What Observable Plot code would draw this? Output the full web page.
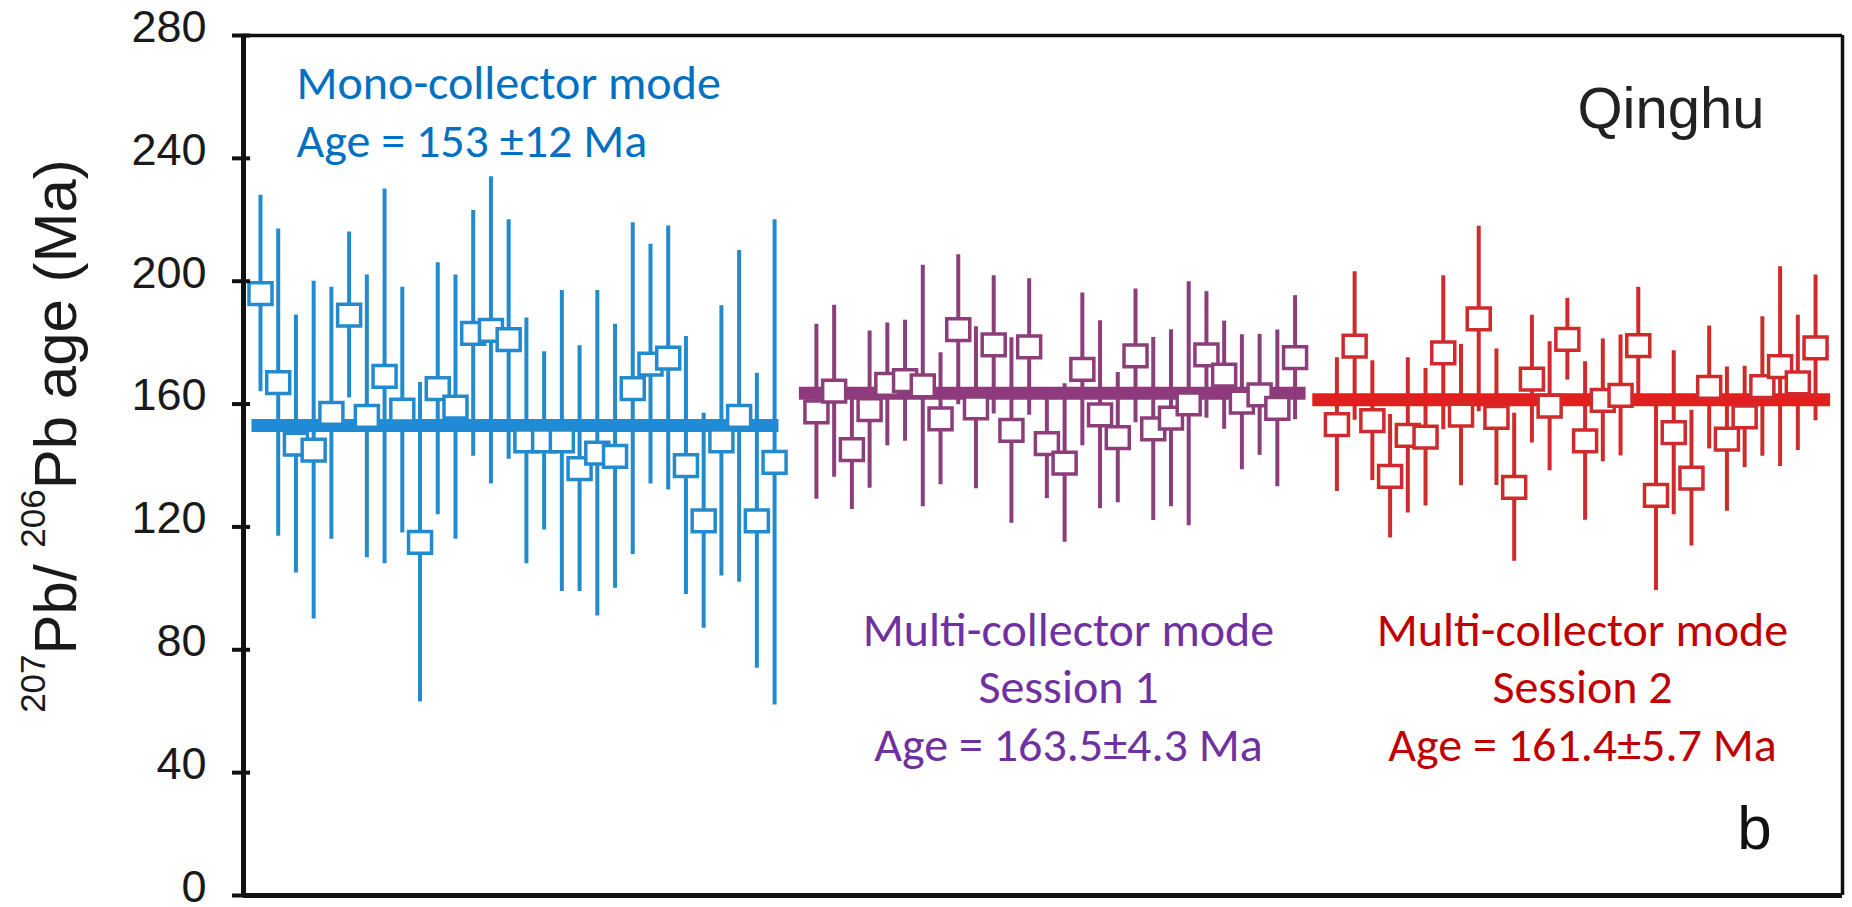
<!DOCTYPE html>
<html>
<head>
<meta charset="utf-8">
<script src="https://cdn.jsdelivr.net/npm/d3@7"></script>
<script src="https://cdn.jsdelivr.net/npm/@observablehq/plot@0.6"></script>
<style>
  html, body { margin: 0; padding: 0; background: #fff; overflow: hidden; }
</style>
</head>
<body>
<div id="chart"></div>
<script>
// 207Pb/206Pb spot ages (Ma) of the Qinghu zircon with 2-sigma errors,
// measured in three acquisition setups.
const yTicks = [0, 40, 80, 120, 160, 200, 240, 280];

const monoAge = [196, 167, 147, 145, 157, 189, 156, 169, 158, 115, 165, 159, 183, 184, 181,
                 148, 148, 148, 139, 144, 143, 165, 173, 175, 140, 122, 148, 156, 122, 141];
const monoErr = [32, 50, 42, 55, 41, 27, 46, 61, 40, 52, 41, 43, 40, 50, 39,
                 40, 29, 49, 40, 53, 43, 54, 39, 43, 42, 35, 44, 54, 48, 79];

const mc1Age = [157.5, 164.2, 145.2, 158.2, 166.4, 167.6, 165.9, 155.2, 184.2, 158.8, 179.3, 151.4, 178.6, 147.1,
                140.8, 171.3, 156.5, 149.1, 175.7, 151.9, 155.4, 160.1, 176.0, 169.4, 160.6, 163.0, 158.6, 175.1];
const mc1Err = [28.5, 28, 19.5, 25.6, 20, 19.7, 39.3, 21.5, 24.4, 26.4, 22.5, 30.2, 22.2, 17.9,
                25.8, 24.9, 30.6, 21.2, 21.8, 29.8, 28.8, 39.7, 20.6, 17.6, 22, 19.7, 25.5, 20.2];

const mc2Age = [153.3, 178.9, 154.6, 136.5, 149.8, 149.2, 176.7, 156.4, 187.7, 155.7, 132.9, 168.1, 159.3, 181.1,
                148.0, 161.2, 162.8, 179.0, 130.3, 150.7, 135.9, 165.4, 148.6, 155.8, 165.7, 172.2, 166.9, 178.3];
const mc2Err = [21.8, 24.2, 19.5, 20.1, 25.3, 22.4, 25.1, 23, 30.2, 22.2, 24.1, 20.8, 21, 13.3,
                25.8, 20, 19.7, 19, 31, 26.7, 22.1, 20, 23.5, 16.5, 22.7, 32.5, 22, 23.7];

// Weighted mean ages and their uncertainties
const weightedMean = [153, 163.5, 161.4];
const meanError = [12, 4.3, 5.7];

const sessionText = [
  ["Mono-collector mode", `Age = ${weightedMean[0]} ±${meanError[0]} Ma`],
  ["Multi-collector mode", "Session 1", `Age = ${weightedMean[1]}±${meanError[1]} Ma`],
  ["Multi-collector mode", "Session 2", `Age = ${weightedMean[2]}±${meanError[2]} Ma`]
];

// ---- layout & styling ----
const GAP = 1.36;                  // empty slots between sessions
const X_DOMAIN = [-0.958, 89.24];  // analysis slots spanned by the frame
const labelFont = "Carlito, Calibri, Lato, sans-serif";
const axisFont = "'Liberation Sans', Arial, Helvetica, sans-serif";
const labelSize = 48;

const groups = [
  {age: monoAge, err: monoErr, bar: "#238bcd", line: "#1f8ad6", text: "#0070c0", padL: 0.48, padR: 0.25},
  {age: mc1Age, err: mc1Err, bar: "#8c3e7a", line: "#8e3a7c", text: "#7030a0", padL: 0.96, padR: 0.62},
  {age: mc2Age, err: mc2Err, bar: "#cf2a2c", line: "#e01f1e", text: "#c00000", padL: 1.36, padR: 0.85}
];

let start = 0;
groups.forEach((g, k) => {
  g.points = g.age.map((a, i) => ({slot: start + i, age: a, err: g.err[i]}));
  g.mean = [{x1: start - g.padL, x2: start + g.age.length - 1 + g.padR, mean: weightedMean[k]}];
  start += g.age.length + GAP;
});

// open rectangle marker, slightly wider than tall
const box = {
  draw(context, size) {
    const r = Math.sqrt(size / Math.PI);
    const w = r * 0.92, h = r * 0.87;
    context.moveTo(-w, -h);
    context.lineTo(w, -h);
    context.lineTo(w, h);
    context.lineTo(-w, h);
    context.closePath();
  }
};

const marks = [];
groups.forEach(g => {
  marks.push(
    Plot.ruleX(g.points, {x: "slot", y1: d => d.age - d.err, y2: d => d.age + d.err, stroke: g.bar, strokeWidth: 4}),
    Plot.ruleY(g.mean, {y: "mean", x1: "x1", x2: "x2", stroke: g.line, strokeWidth: 13}),
    Plot.dot(g.points, {x: "slot", y: "age", symbol: box, r: 12.5, fill: "white", stroke: g.bar, strokeWidth: 3.5})
  );
});

// frame and crossing ticks
marks.push(
  Plot.ruleY(yTicks, {x1: X_DOMAIN[0] - 0.62, x2: X_DOMAIN[0] + 0.4, stroke: "#111", strokeWidth: 4}),
  Plot.ruleY([280], {stroke: "#111", strokeWidth: 3.5}),
  Plot.ruleY([0], {stroke: "#111", strokeWidth: 5}),
  Plot.ruleX([X_DOMAIN[1]], {stroke: "#111", strokeWidth: 3.5}),
  Plot.ruleX([X_DOMAIN[0]], {stroke: "#111", strokeWidth: 5}),
  Plot.axisY({ticks: yTicks, tickSize: 0, tickPadding: 37, dy: -8, fontSize: 45,
              fontFamily: axisFont, fill: "#1a1a1a", label: null})
);

// session annotations
marks.push(
  Plot.text([sessionText[0].join("\n")], {text: d => d, frameAnchor: "top-left", dx: 53, dy: 121.7,
    lineAnchor: "bottom", textAnchor: "start", fontSize: labelSize, lineHeight: 58.4 / labelSize,
    fill: groups[0].text, fontFamily: labelFont}),
  Plot.text([sessionText[1].join("\n")], {text: d => d, frameAnchor: "top-left", dx: 825, dy: 725,
    lineAnchor: "bottom", textAnchor: "middle", fontSize: labelSize, lineHeight: 57.5 / labelSize,
    fill: groups[1].text, fontFamily: labelFont}),
  Plot.text([sessionText[2].join("\n")], {text: d => d, frameAnchor: "top-left", dx: 1339, dy: 725,
    lineAnchor: "bottom", textAnchor: "middle", fontSize: labelSize, lineHeight: 57.5 / labelSize,
    fill: groups[2].text, fontFamily: labelFont}),
  Plot.text(["Qinghu"], {text: d => d, frameAnchor: "top-right", dx: -78, dy: 92, lineAnchor: "bottom",
    textAnchor: "end", fontSize: 58, fill: "#222", fontFamily: axisFont}),
  Plot.text(["b"], {text: d => d, frameAnchor: "bottom-right", dx: -88, dy: -47, lineAnchor: "bottom",
    textAnchor: "middle", fontSize: 62, fill: "#111", fontFamily: axisFont})
);

const chart = Plot.plot({
  width: 1852,
  height: 907,
  marginLeft: 243,
  marginRight: 10,
  marginTop: 35,
  marginBottom: 12,
  style: {background: "white", overflow: "visible"},
  x: {domain: X_DOMAIN, axis: null},
  y: {domain: [0, 280], label: null},
  marks
});

// y-axis title with superscript mass numbers
const title = d3.select(chart).append("text")
  .attr("transform", "translate(76,436) rotate(-90)")
  .attr("text-anchor", "middle")
  .attr("font-family", axisFont)
  .attr("font-size", 60)
  .attr("fill", "#1a1a1a");
title.append("tspan").attr("font-size", 35).attr("dy", -31).text("207");
title.append("tspan").attr("dy", 31).text("Pb/ ");
title.append("tspan").attr("font-size", 35).attr("dy", -31).text("206");
title.append("tspan").attr("dy", 31).text("Pb age (Ma)");

document.getElementById("chart").append(chart);
</script>
</body>
</html>
